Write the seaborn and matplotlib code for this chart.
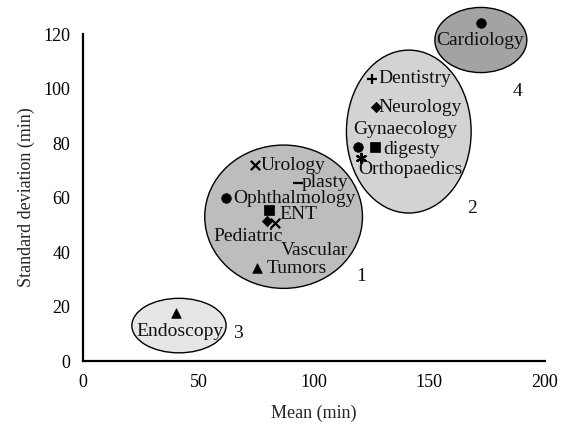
import matplotlib
matplotlib.use("Agg")
import matplotlib.pyplot as plt
import seaborn as sns
import pandas as pd
from matplotlib.patches import Ellipse

# ---- data ----
departments = ["Urology", "plasty", "Ophthalmology", "ENT", "Pediatric", "Vascular", "Tumors",
               "Dentistry", "Neurology", "Gynaecology", "digesty", "Orthopaedics",
               "Cardiology", "Endoscopy"]
mean_min = [74.5, 93.2, 61.9, 80.5, 79.5, 83.1, 75.5,
            125.0, 127.1, 119.2, 126.4, 120.6,
            172.3, 40.5]
sd_min = [71.9, 65.4, 59.7, 55.3, 51.5, 50.5, 34.2,
          103.4, 93.3, 78.6, 78.6, 74.4,
          124.2, 17.5]
markers = ["x", "_", "o", "s", "D", "x", "^",
           "+", "D", "o", "s", (6, 2, 0),
           "o", "^"]

label_x = [91.0, 104.8, 91.8, 93.2, 71.6, 100.4, 92.5,
           143.7, 145.9, 139.4, 142.3, 141.6,
           171.9, 42.0]
label_y = [71.9, 65.4, 59.7, 53.6, 45.6, 40.7, 34.0,
           103.5, 93.2, 84.8, 77.8, 70.1,
           117.8, 10.8]

clusters = ["1", "2", "3", "4"]
cluster_cx = [86.9, 141.1, 41.6, 172.3]
cluster_cy = [52.95, 84.2, 13.0, 117.8]
cluster_w = [68.3, 54.0, 40.8, 39.8]
cluster_h = [52.6, 59.8, 20.0, 23.9]
cluster_fill = ["#bdbdbd", "#d3d3d3", "#e6e6e6", "#a3a3a3"]
cluster_num_x = [120.6, 168.3, 67.2, 188.3]
cluster_num_y = [30.9, 56.1, 10.2, 98.8]

df = pd.DataFrame({"dept": departments, "mean": mean_min, "sd": sd_min})

# ---- figure ----
sns.set_theme(style="white")
plt.rcParams["font.family"] = ["Liberation Serif", "DejaVu Serif"]

fig = plt.figure(figsize=(5.64, 4.29), dpi=100)
ax = fig.add_axes([0.147, 0.1585, 0.819, 0.7622])

for cx, cy, w, h, fc in zip(cluster_cx, cluster_cy, cluster_w, cluster_h, cluster_fill):
    ax.add_patch(Ellipse((cx, cy), w, h, facecolor=fc, edgecolor="black", lw=1.0,
                         zorder=1, clip_on=False))

for i, d in enumerate(departments):
    m = markers[i]
    sub = df[df["dept"] == d]
    lineart = m in ("x", "_", "+") or isinstance(m, tuple)
    if lineart:
        sns.scatterplot(data=sub, x="mean", y="sd", marker=m, color="black",
                        s=45, linewidth=1.6, ax=ax, zorder=3, legend=False, clip_on=False)
    else:
        size = 28 if m == "D" else 48
        sns.scatterplot(data=sub, x="mean", y="sd", marker=m, color="black",
                        edgecolor="black", s=size, linewidth=0.5, ax=ax, zorder=3,
                        legend=False, clip_on=False)

for d, lx, ly in zip(departments, label_x, label_y):
    ax.text(lx, ly, d, ha="center", va="center", fontsize=14, color="#111111", zorder=4)

for c, nx, ny in zip(clusters, cluster_num_x, cluster_num_y):
    ax.text(nx, ny, c, ha="center", va="center", fontsize=14, color="#111111", zorder=4)

ax.set_xlim(0, 200)
ax.set_ylim(0, 120)
ax.set_xticks([0, 50, 100, 150, 200])
ax.set_yticks([0, 20, 40, 60, 80, 100, 120])
ax.set_xlabel("Mean (min)", fontsize=13, labelpad=10)
ax.set_ylabel("Standard deviation (min)", fontsize=13, labelpad=6)
ax.tick_params(axis="both", which="major", direction="out", length=5, width=1.5,
               labelsize=13, colors="black", pad=4)
for side in ["top", "right"]:
    ax.spines[side].set_visible(False)
for side in ["left", "bottom"]:
    ax.spines[side].set_linewidth(1.6)
    ax.spines[side].set_color("black")
ax.set_facecolor("white")
for sp in ax.spines.values():
    sp.set_zorder(5)

fig.savefig("out.png", dpi=100)
